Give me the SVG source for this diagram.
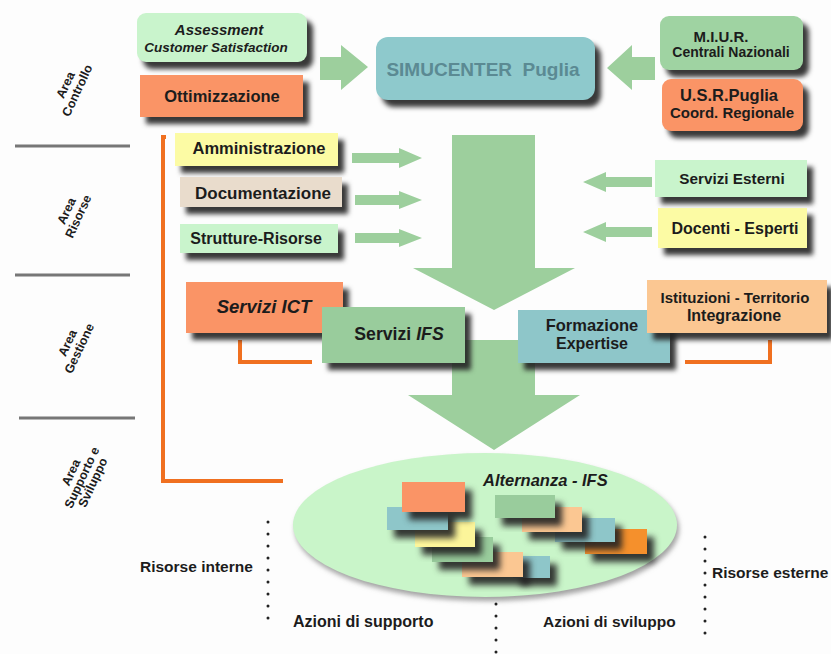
<svg xmlns="http://www.w3.org/2000/svg" width="831" height="654" viewBox="0 0 831 654">
<defs>
<filter id="sh" x="-20%" y="-30%" width="150%" height="180%" color-interpolation-filters="sRGB">
<feGaussianBlur in="SourceAlpha" stdDeviation="2.5" result="b"/>
<feOffset in="b" dx="6" dy="7" result="o"/>
<feFlood flood-color="#222" flood-opacity="0.9"/>
<feComposite in2="o" operator="in" result="s"/>
<feMerge><feMergeNode in="s"/><feMergeNode in="SourceGraphic"/></feMerge>
</filter>
<filter id="sh2" x="-30%" y="-40%" width="170%" height="200%" color-interpolation-filters="sRGB">
<feGaussianBlur in="SourceAlpha" stdDeviation="3" result="b"/>
<feOffset in="b" dx="7" dy="8" result="o"/>
<feFlood flood-color="#222" flood-opacity="0.9"/>
<feComposite in2="o" operator="in" result="s"/>
<feMerge><feMergeNode in="s"/><feMergeNode in="SourceGraphic"/></feMerge>
</filter>
<filter id="esh" x="-10%" y="-10%" width="120%" height="130%" color-interpolation-filters="sRGB">
<feGaussianBlur in="SourceAlpha" stdDeviation="2.5" result="b"/>
<feOffset in="b" dx="2" dy="4" result="o"/>
<feFlood flood-color="#666" flood-opacity="0.6"/>
<feComposite in2="o" operator="in" result="s"/>
<feMerge><feMergeNode in="s"/><feMergeNode in="SourceGraphic"/></feMerge>
</filter>
</defs>
<style>
text{font-family:"Liberation Sans",Arial,sans-serif;font-weight:bold;fill:#1c1c1c}
.c{text-anchor:middle}
.i{font-style:italic}
.arr{fill:#9dcf9d}
.sep{stroke:#777;stroke-width:3}
.or{fill:none;stroke:#f07020;stroke-width:4}
.dot{stroke:#222;stroke-width:3;stroke-linecap:round;stroke-dasharray:0 12}
.lab{font-size:12.5px}
</style>
<rect width="831" height="654" fill="#fdfdfd"/>

<g id="separators">
<line class="sep" x1="15" y1="146" x2="130" y2="146"/>
<line class="sep" x1="15" y1="275" x2="130" y2="275"/>
<line class="sep" x1="19" y1="418" x2="135" y2="418"/>
</g>

<g id="area-labels">
<g transform="translate(72,88) rotate(-65)"><text class="c lab" y="-3">Area</text><text class="c lab" y="10">Controllo</text></g>
<g transform="translate(73,214) rotate(-65)"><text class="c lab" y="-3">Area</text><text class="c lab" y="10">Risorse</text></g>
<g transform="translate(74,346) rotate(-65)"><text class="c lab" y="-3">Area</text><text class="c lab" y="10">Gestione</text></g>
<g transform="translate(83,478) rotate(-65)"><text class="c lab" y="-9">Area</text><text class="c lab" y="3">Supporto e</text><text class="c lab" y="15">Sviluppo</text></g>
</g>

<g id="connectors">
<polygon class="arr" points="320,57 341,57 341,45 368,67 341,90 341,80 320,80"/>
<polygon class="arr" points="655,57 632,57 632,45 607,68 632,90 632,80 655,80"/>
<polygon class="arr" points="452,135 535,135 535,268 575,268 494,310 413,268 452,268"/>
<polygon class="arr" points="452,340 535,340 535,395 580,395 494,450 408,395 452,395"/>
<polygon class="arr" points="352,153 399,153 399,148 422,158 399,168 399,163 352,163"/>
<polygon class="arr" points="355,195 399,195 399,191 422,200 399,209 399,205 355,205"/>
<polygon class="arr" points="355,233 399,233 399,229 422,238 399,247 399,243 355,243"/>
<polygon class="arr" points="652,177 606,177 606,172 583,182 606,192 606,187 652,187"/>
<polygon class="arr" points="652,227 606,227 606,222 583,232 606,242 606,237 652,237"/>
<polyline class="or" points="166,137 163,137 163,481 283,481"/>
<polyline class="or" points="240,340 240,362 312,362"/>
<polyline class="or" points="685,362 770,362 770,340"/>
</g>

<g id="assessment"><rect x="137" y="13" width="170" height="49" rx="9" fill="#c9f4cc" filter="url(#sh)"/><text class="c i" x="219" y="35" font-size="15">Assessment</text><text class="c i" x="216" y="52" font-size="13.5">Customer Satisfaction</text></g>
<g id="ottimizzazione"><rect x="140" y="75" width="163" height="42" fill="#fa9466" filter="url(#sh)"/><text class="c" x="222" y="102" font-size="16.5">Ottimizzazione</text></g>
<g id="simucenter"><rect x="376" y="37" width="219" height="63" rx="12" fill="#8ec9cc" filter="url(#sh)"/><text class="c" x="483" y="76" font-size="19" xml:space="preserve" style="fill:#5b8a93">SIMUCENTER  Puglia</text></g>
<g id="miur"><rect x="660" y="16" width="143" height="54" rx="9" fill="#9fd3a2" filter="url(#sh)"/><text class="c" x="721" y="42" font-size="15">M.I.U.R.</text><text class="c" x="731" y="57" font-size="14">Centrali Nazionali</text></g>
<g id="usr"><rect x="662" y="79" width="141" height="52" rx="9" fill="#fa9466" filter="url(#sh)"/><text class="c" x="729" y="101" font-size="16.5">U.S.R.Puglia</text><text class="c" x="732" y="118" font-size="15">Coord. Regionale</text></g>

<g id="amministrazione"><rect x="175" y="133" width="163" height="33" fill="#fcfba4" filter="url(#sh)"/><text class="c" x="259" y="154" font-size="16.5">Amministrazione</text></g>
<g id="documentazione"><rect x="180" y="177" width="162" height="30" fill="#e9dccc" filter="url(#sh)"/><text class="c" x="263" y="199" font-size="17">Documentazione</text></g>
<g id="strutture"><rect x="180" y="224" width="158" height="29" fill="#c9f4cc" filter="url(#sh)"/><text class="c" x="256" y="244" font-size="16">Strutture-Risorse</text></g>
<g id="servizi-esterni"><rect x="655" y="160" width="152" height="37" fill="#c9f4cc" filter="url(#sh)"/><text class="c" x="732" y="184" font-size="15.3">Servizi Esterni</text></g>
<g id="docenti"><rect x="658" y="208" width="149" height="40" fill="#fcfba4" filter="url(#sh)"/><text class="c" x="735" y="234" font-size="16">Docenti - Esperti</text></g>

<g id="servizi-ict"><rect x="186" y="282" width="157" height="51" fill="#fa9466" filter="url(#sh)"/><text class="c i" x="264" y="313" font-size="18.5">Servizi ICT</text></g>
<g id="servizi-ifs"><rect x="322" y="307" width="143" height="56" fill="#99cc9c" filter="url(#sh)"/><text class="c" x="399" y="340" font-size="17.7">Servizi <tspan class="i">IFS</tspan></text></g>
<g id="formazione"><rect x="518" y="310" width="152" height="53" fill="#8ec6c9" filter="url(#sh)"/><text class="c" x="592" y="331" font-size="16.5">Formazione</text><text class="c" x="592" y="349" font-size="16">Expertise</text></g>
<g id="istituzioni"><rect x="647" y="280" width="180" height="53" fill="#fbc792" filter="url(#sh)"/><text class="c" x="735" y="303" font-size="15">Istituzioni - Territorio</text><text class="c" x="734" y="321" font-size="16">Integrazione</text></g>

<g id="alternanza">
<ellipse cx="485" cy="525" rx="192" ry="72" fill="#c9f5c9" filter="url(#esh)"/>
<text class="i" x="483" y="486" font-size="16.5">Alternanza - IFS</text>
<rect x="513" y="556" width="37" height="22" fill="#8ec6c9" filter="url(#sh2)"/>
<rect x="462" y="552" width="61" height="25" fill="#fbc792" filter="url(#sh2)"/>
<rect x="432" y="537" width="61" height="25" fill="#99cc9c" filter="url(#sh2)"/>
<rect x="415" y="522" width="60" height="25" fill="#fcf59a" filter="url(#sh2)"/>
<rect x="387" y="507" width="61" height="23" fill="#8ec6c9" filter="url(#sh2)"/>
<rect x="402" y="482" width="63" height="30" fill="#fa9466" filter="url(#sh2)"/>
<rect x="585" y="529" width="62" height="25" fill="#f5902c" filter="url(#sh2)"/>
<rect x="555" y="518" width="60" height="24" fill="#8ec6c9" filter="url(#sh2)"/>
<rect x="522" y="507" width="60" height="25" fill="#fbc792" filter="url(#sh2)"/>
<rect x="495" y="495" width="60" height="23" fill="#99cc9c" filter="url(#sh2)"/>
</g>

<g id="dotted">
<line class="dot" x1="268" y1="522" x2="268" y2="626"/>
<line class="dot" x1="496" y1="604" x2="496" y2="654"/>
<line class="dot" x1="705" y1="537" x2="705" y2="640"/>
</g>

<g id="legend">
<text x="140" y="572" font-size="15.5">Risorse interne</text>
<text x="293" y="627" font-size="16">Azioni di supporto</text>
<text x="543" y="627" font-size="15.5">Azioni di sviluppo</text>
<text x="712" y="578" font-size="15.5">Risorse esterne</text>
</g>
</svg>
